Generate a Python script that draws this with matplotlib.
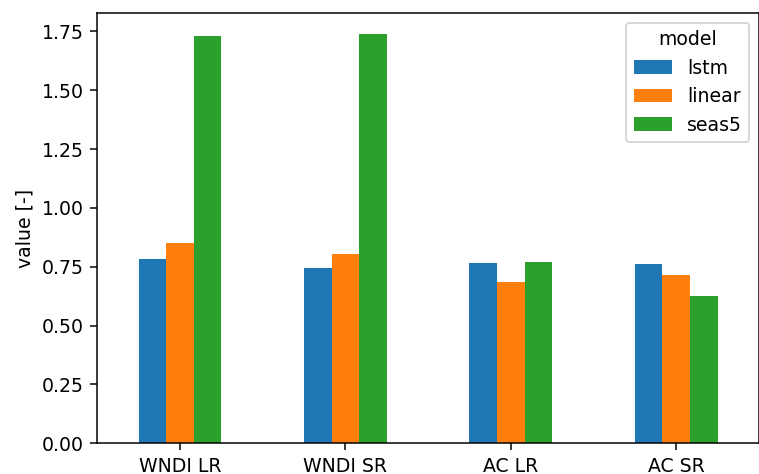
import pandas as pd
import matplotlib
matplotlib.use('Agg')
import matplotlib.pyplot as plt

# skill scores per index and model
categories = ['WNDI LR', 'WNDI SR', 'AC LR', 'AC SR']
lstm = [0.781, 0.744, 0.768, 0.761]
linear = [0.851, 0.803, 0.687, 0.713]
seas5 = [1.732, 1.740, 0.772, 0.625]

df = pd.DataFrame({'lstm': lstm, 'linear': linear, 'seas5': seas5},
                  index=categories)
df.columns.name = 'model'

dpi = 136
fig = plt.figure(figsize=(759 / dpi, 474 / dpi), dpi=dpi)
ax = fig.add_axes([0.1282, 0.0648, 0.8717, 0.9072])
df.plot.bar(ax=ax, rot=0)
ax.set_xlim(-0.5, 3.5)
ax.set_ylabel('value [-]')
ax.set_xlabel('')
ax.legend(title='model', loc='upper right')

plt.savefig('out.png', dpi=dpi)
